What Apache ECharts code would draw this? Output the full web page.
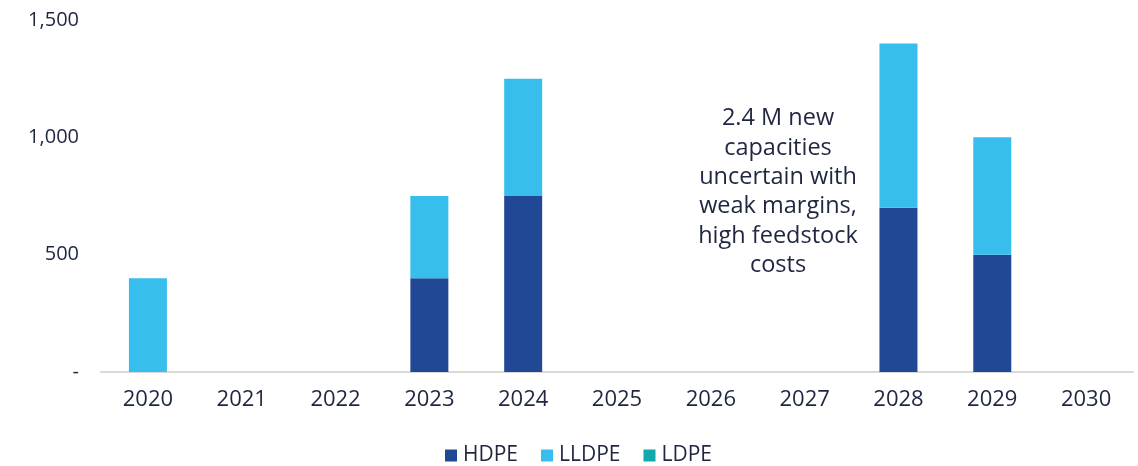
<!DOCTYPE html>
<html>
<head>
<meta charset="utf-8">
<script src="https://cdn.jsdelivr.net/npm/echarts@6/dist/echarts.min.js"></script>
<style>
  html, body { margin: 0; padding: 0; background: #ffffff; }
  #chart { width: 1138px; height: 466px; }
</style>
</head>
<body>
<div id="chart"></div>
<script>
// Polyethylene capacity additions by year (kt)
const years = ['2020', '2021', '2022', '2023', '2024', '2025', '2026', '2027', '2028', '2029', '2030'];
const hdpe  = [0, 0, 0, 400, 750, 0, 0, 0, 700, 500, 0];
const lldpe = [400, 0, 0, 350, 500, 0, 0, 0, 700, 500, 0];
const ldpe  = [0, 0, 0, 0, 0, 0, 0, 0, 0, 0, 0];
const yTicks = [0, 500, 1000, 1500];

const textColor = '#1e2640';
const font = 'Open Sans';

const chart = echarts.init(document.getElementById('chart'));

function seriesOf(name, values, color) {
  return {
    name: name,
    type: 'bar',
    stack: 'total',
    barWidth: 38,
    data: values.map(v => (v === 0 ? null : v)),
    itemStyle: { color: color },
    emphasis: { disabled: true }
  };
}

chart.setOption({
  animation: false,
  textStyle: { fontFamily: font },
  grid: { left: 101, right: 5, top: 20, bottom: 94 },
  legend: {
    top: 440,
    left: 440,
    itemWidth: 12,
    itemHeight: 12,
    itemGap: 23,
    icon: 'rect',
    textStyle: { color: textColor, fontSize: 21, fontFamily: font, padding: [0, 0, 0, 1] },
    data: ['HDPE', 'LLDPE', 'LDPE']
  },
  xAxis: {
    type: 'category',
    data: years,
    axisLine: { lineStyle: { color: '#d9d9d9', width: 2 } },
    axisTick: { show: false },
    axisLabel: { color: textColor, fontSize: 22, margin: 17, fontFamily: font }
  },
  yAxis: {
    type: 'value',
    min: yTicks[0],
    max: yTicks[yTicks.length - 1],
    interval: 500,
    splitLine: { show: false },
    axisLine: { show: false },
    axisTick: { show: false },
    axisLabel: {
      color: textColor,
      fontSize: 20,
      margin: 22,
      fontFamily: font,
      formatter: v => (v === 0 ? '-' : v.toLocaleString('en-US'))
    }
  },
  series: [
    seriesOf('HDPE', hdpe, '#214894'),
    seriesOf('LLDPE', lldpe, '#38beed'),
    seriesOf('LDPE', ldpe, '#12a9ad')
  ],
  graphic: [{
    type: 'text',
    x: 778,
    y: 104,
    style: {
      text: '2.4 M new\ncapacities\nuncertain with\nweak margins,\nhigh feedstock\ncosts',
      fill: textColor,
      font: '23.5px "Open Sans"',
      lineHeight: 29.3,
      align: 'center',
      verticalAlign: 'top'
    }
  }]
});
</script>
</body>
</html>
